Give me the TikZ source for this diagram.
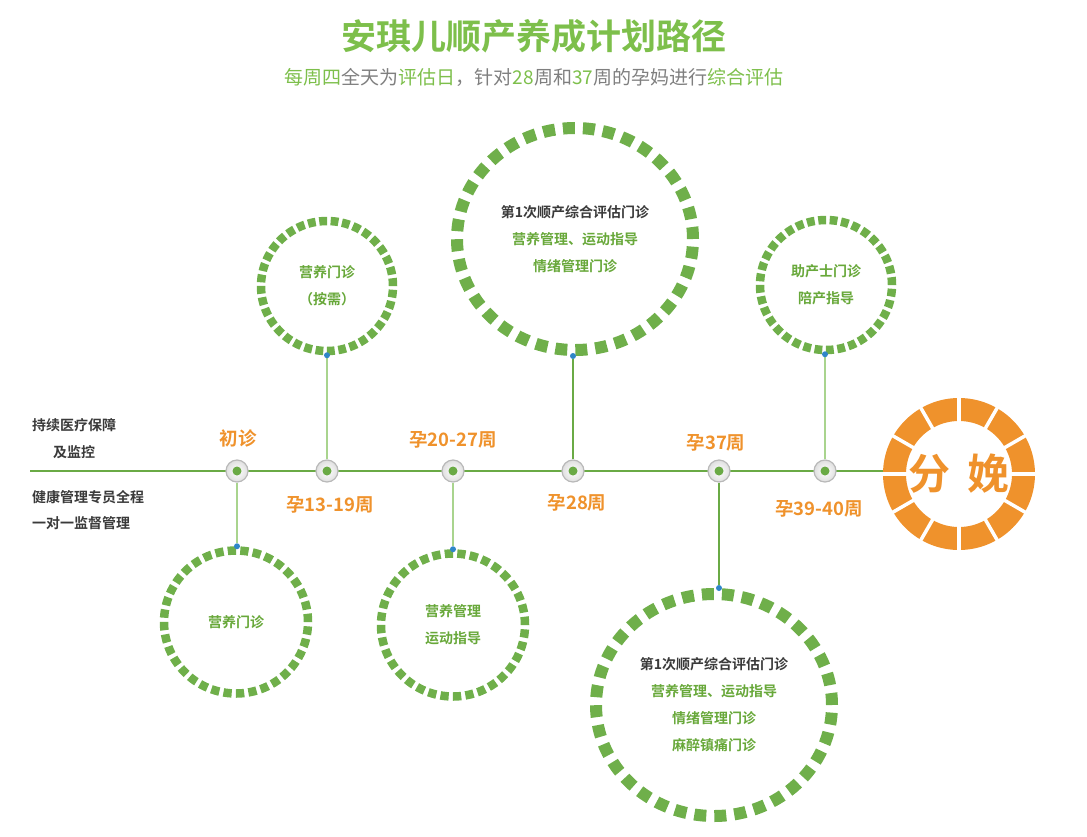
\documentclass[tikz,border=0pt]{standalone}
\usepackage{fontspec}
\setmainfont{Noto Sans CJK SC}[BoldFont=* Bold]
\usetikzlibrary{shapes.geometric, backgrounds, positioning}

\definecolor{titlegreen}{HTML}{7DBF4B}
\definecolor{dashgreen}{HTML}{6FAF4A}
\definecolor{linegreen}{HTML}{6AAA45}
\definecolor{palegreen}{HTML}{A9D48E}
\definecolor{textgreen}{HTML}{68A83A}
\definecolor{darktext}{HTML}{3A3A3A}
\definecolor{subgray}{HTML}{7F7F7F}
\definecolor{birthorange}{HTML}{EF922C}
\definecolor{dotblue}{HTML}{2F86C8}

\tikzset{
  ringtext/.style={ellipse, inner sep=0pt, align=center, text=textgreen,
    font=\bfseries\fontsize{14}{27}\selectfont},
  smallring/.style={ringtext, draw=dashgreen, line width=8.5pt,
    minimum width=132pt, minimum height=130pt, dash pattern=on 7.8pt off 3.63pt},
  lowring/.style={ringtext, draw=dashgreen, line width=8.5pt,
    minimum width=144pt, minimum height=143pt, dash pattern=on 8.3pt off 4.22pt},
  bigring/.style={ringtext, draw=dashgreen, line width=12pt,
    minimum width=236pt, minimum height=222pt, dash pattern=on 12pt off 8pt},
  weeklabel/.style={text=birthorange, font=\bfseries\fontsize{18.5}{18.5}\selectfont},
  sidetext/.style={anchor=west, inner sep=0pt, align=left, text=darktext,
    font=\bfseries\fontsize{14}{27}\selectfont},
  marker/.style={circle, minimum size=22pt, inner sep=0pt, draw=gray!55,
    line width=1.2pt, inner color=white, outer color=gray!25,
    path picture={\fill[linegreen] (path picture bounding box.center) circle [radius=4.5];}},
  bluedot/.style={circle, fill=dotblue, inner sep=0pt, minimum size=6pt},
  thinlink/.style={draw=palegreen, line width=1.2pt},
  boldlink/.style={draw=linegreen, line width=2pt},
}

\begin{document}
\begin{tikzpicture}[x=1pt, y=-1pt]
  \useasboundingbox (0,0) rectangle (1087,836);

  % title
  \node (title) at (534,36) [text=titlegreen, font=\bfseries\fontsize{35}{35}\selectfont] {安琪儿顺产养成计划路径};
  \node (subtitle) at (534,77) [text=subgray, font=\fontsize{19}{19}\selectfont]
    {{\color{titlegreen}每周四}全天为{\color{titlegreen}评估日}，针对{\color{titlegreen}28}周和{\color{titlegreen}37}周的孕妈进行{\color{titlegreen}综合评估}};

  % side notes
  \node (care) at (32,439) [sidetext] {持续医疗保障\\\hspace*{21pt}及监控};
  \node (staff) at (32,510) [sidetext, font=\bfseries\fontsize{14}{26}\selectfont] {健康管理专员全程\\一对一监督管理};

  % timeline markers
  \coordinate (start) at (30,471);
  \node (m1) at (237,471) [marker] {};
  \node (m2) at (327,471) [marker] {};
  \node (m3) at (453,471) [marker] {};
  \node (m4) at (573,471) [marker] {};
  \node (m5) at (719,471) [marker] {};
  \node (m6) at (825,471) [marker] {};

  % week labels
  \node (w1) at (238,438) [weeklabel] {初诊};
  \node (w2) at (330,505) [weeklabel] {孕13-19周};
  \node (w3) at (453,440) [weeklabel] {孕20-27周};
  \node (w4) at (577,503) [weeklabel] {孕28周};
  \node (w5) at (716,443) [weeklabel] {孕37周};
  \node (w6) at (819,509) [weeklabel] {孕39-40周};

  % clinic rings
  \node (c1) at (236,622) [lowring] {营养门诊};
  \node (c2) at (327,286) [smallring] {营养门诊\\（按需）};
  \node (c3) at (453,625) [lowring] {营养管理\\运动指导};
  \node (c4) at (575,239) [bigring] {\textcolor{darktext}{第1次顺产综合评估门诊}\\营养管理、运动指导\\情绪管理门诊};
  \node (c5) at (714,705) [bigring] {\textcolor{darktext}{第1次顺产综合评估门诊}\\营养管理、运动指导\\情绪管理门诊\\麻醉镇痛门诊};
  \node (c6) at (826,285) [smallring] {助产士门诊\\陪产指导};

  \node (d1) at (m1 |- c1.north) [bluedot] {};
  \node (d2) at (m2 |- c2.south) [bluedot] {};
  \node (d3) at (m3 |- c3.north) [bluedot] {};
  \node (d4) at (m4 |- c4.south) [bluedot] {};
  \node (d5) at (m5 |- c5.north) [bluedot] {};
  \node (d6) at (m6 |- c6.south) [bluedot] {};

  % birth ring
  \node (birth) at (959,474) [circle, minimum size=152pt, inner sep=0pt, text=birthorange,
    font=\bfseries\fontsize{42}{42}\selectfont] {分\hspace{18pt}娩};
  \draw [birthorange, line width=23pt] (birth.center) circle [radius=64.5];
  \foreach \a in {0,30,...,330}
    \draw [white, line width=3.5pt] (birth.center) ++(\a:50) -- ++(\a:29);

  \begin{scope}[on background layer]
    \draw [boldlink] (start) -- (start -| birth.west);
    \draw [thinlink] (m1) -- (d1);
    \draw [thinlink] (m2) -- (d2);
    \draw [thinlink] (m3) -- (d3);
    \draw [boldlink] (m4) -- (d4);
    \draw [boldlink] (m5) -- (d5);
    \draw [thinlink] (m6) -- (d6);
  \end{scope}
\end{tikzpicture}
\end{document}
